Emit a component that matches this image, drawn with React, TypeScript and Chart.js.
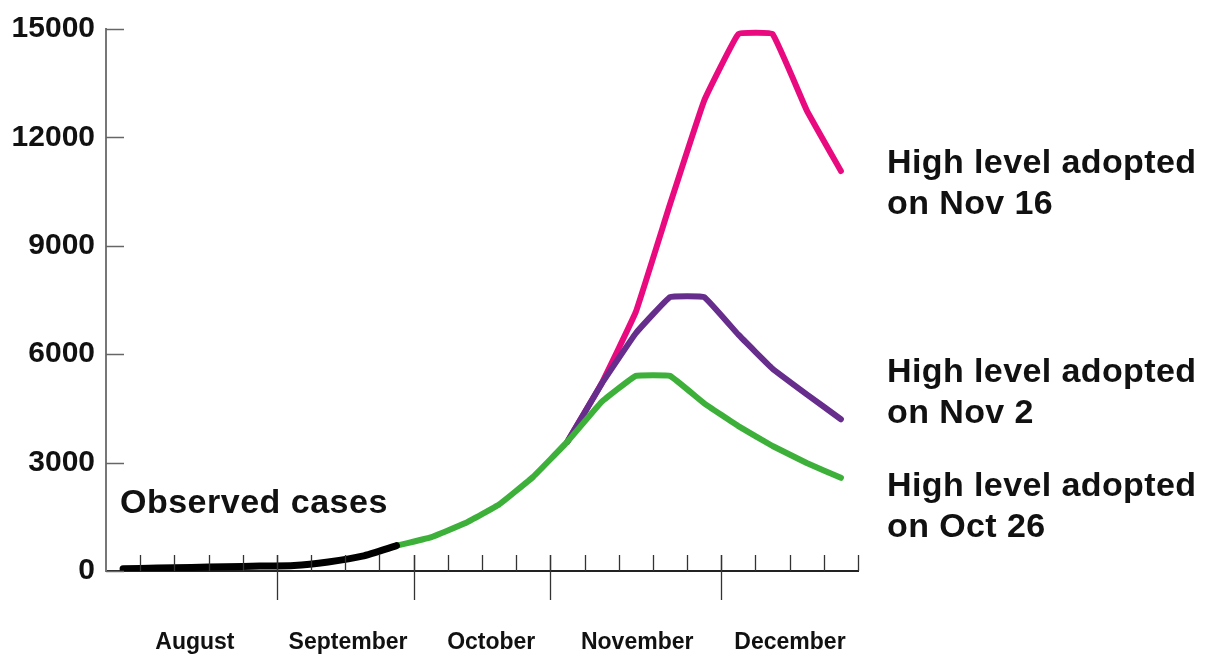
import React, { useEffect, useRef } from "react";
import { Chart, registerables } from "chart.js";

Chart.register(...registerables);

// ---- data ----
const weeks = [
  "Aug W1", "Aug W2", "Aug W3", "Aug W4", "Aug W5",
  "Sep W1", "Sep W2", "Sep W3", "Sep W4",
  "Oct W1", "Oct W2", "Oct W3", "Oct W4",
  "Nov W1", "Nov W2", "Nov W3", "Nov W4", "Nov W5",
  "Dec W1", "Dec W2", "Dec W3", "Dec W4",
];

const observed = [60, 80, 100, 120, 135, 150, 250, 410, 700, null, null, null, null, null, null, null, null, null, null, null, null, null];
const adoptedOct26 = [null, null, null, null, null, null, null, null, 700, 930, 1320, 1840, 2610, 3580, 4680, 5400, 5400, 4640, 4010, 3460, 2990, 2580];
const adoptedNov2 = [null, null, null, null, null, null, null, null, null, null, null, null, null, 3580, 5180, 6580, 7580, 7580, 6540, 5600, 4890, 4200];
const adoptedNov16 = [null, null, null, null, null, null, null, null, null, null, null, null, null, 3580, 5190, 7170, 10150, 13020, 14860, 14860, 12750, 11070];

const yTicks = [0, 3000, 6000, 9000, 12000, 15000];

const months = ["August", "September", "October", "November", "December"];
const monthLabelAt = [2.1, 6.58, 10.77, 15.04, 19.51]; // category units
const monthBoundaries = [4.5, 8.5, 12.5, 17.5]; // category units

const seriesNotes = [
  { lines: ["High level adopted", "on Nov 16"], value: 11264 },
  { lines: ["High level adopted", "on Nov 2"], value: 5495 },
  { lines: ["High level adopted", "on Oct 26"], value: 2335 },
];
const observedNote = { text: "Observed cases", value: 1868 };

const FONT = "'Liberation Sans', Arial, Helvetica, sans-serif";

const decorPlugin = {
  id: "decor",
  afterDraw(chart: any) {
    const ctx = chart.ctx as CanvasRenderingContext2D;
    const xs = chart.scales.x;
    const ys = chart.scales.y;
    const area = chart.chartArea;
    ctx.save();
    const line = (x1: number, y1: number, x2: number, y2: number) => {
      ctx.beginPath();
      ctx.moveTo(x1, y1);
      ctx.lineTo(x2, y2);
      ctx.stroke();
    };
    // inward y ticks
    ctx.strokeStyle = "#666";
    ctx.lineWidth = 1.5;
    ys.ticks.forEach((t: any) => {
      const py = Math.round(ys.getPixelForValue(t.value)) + 0.5;
      line(area.left, py, area.left + 18, py);
    });
    // x minor ticks (weekly)
    ctx.strokeStyle = "#333";
    ctx.lineWidth = 1.3;
    for (let k = 1; k <= weeks.length; k++) {
      const px = Math.round(xs.getPixelForValue(k - 0.5)) + 0.5;
      line(px, area.bottom, px, area.bottom - 16);
    }
    // month boundaries
    monthBoundaries.forEach((b) => {
      const px = Math.round(xs.getPixelForValue(b)) + 0.5;
      line(px, area.bottom - 16, px, area.bottom + 29);
    });
    // month labels
    ctx.fillStyle = "#111";
    ctx.font = `bold 23px ${FONT}`;
    ctx.textAlign = "center";
    ctx.textBaseline = "middle";
    months.forEach((m, i) => {
      ctx.fillText(m, xs.getPixelForValue(monthLabelAt[i]), area.bottom + 72);
    });
    // series notes
    ctx.textAlign = "left";
    ctx.font = `bold 34px ${FONT}`;
    (ctx as any).letterSpacing = "0.4px";
    seriesNotes.forEach((n) => {
      const py = ys.getPixelForValue(n.value);
      n.lines.forEach((l, j) => ctx.fillText(l, area.right + 29, py + j * 41));
    });
    (ctx as any).letterSpacing = "0.5px";
    ctx.fillText(observedNote.text, area.left + 14, ys.getPixelForValue(observedNote.value));
    ctx.restore();
  },
};

export default function App() {
  const ref = useRef<HTMLCanvasElement | null>(null);
  useEffect(() => {
    if (!ref.current) return;
    const common = {
      pointRadius: 0,
      pointHoverRadius: 0,
      borderCapStyle: "round" as const,
      borderJoinStyle: "round" as const,
      tension: 0.08,
      spanGaps: false,
      fill: false,
    };
    const chart = new Chart(ref.current, {
      type: "line",
      data: {
        labels: weeks,
        datasets: [
          { ...common, label: "Observed cases", data: observed, borderColor: "#000000", borderWidth: 7, tension: 0.2 },
          { ...common, label: "High level adopted on Oct 26", data: adoptedOct26, borderColor: "#3DB03A", borderWidth: 6 },
          { ...common, label: "High level adopted on Nov 2", data: adoptedNov2, borderColor: "#662D8C", borderWidth: 6 },
          { ...common, label: "High level adopted on Nov 16", data: adoptedNov16, borderColor: "#EA0A80", borderWidth: 6 },
        ],
      },
      options: {
        animation: false,
        responsive: true,
        maintainAspectRatio: false,
        layout: { padding: { left: 0, right: 348, top: 25, bottom: 0 } },
        plugins: { legend: { display: false }, tooltip: { enabled: false } },
        scales: {
          x: {
            type: "category",
            offset: true,
            grid: { display: false, offset: true, drawTicks: false },
            border: { display: true, color: "#222", width: 2 },
            ticks: { display: false },
            afterFit: (s: any) => {
              s.height = 84;
            },
          },
          y: {
            min: 0,
            max: 15000,
            afterBuildTicks: (s: any) => {
              s.ticks = yTicks.map((v) => ({ value: v }));
            },
            grid: { display: false, drawTicks: false },
            border: { display: true, color: "#777", width: 2 },
            ticks: {
              padding: 11,
              color: "#111",
              font: { family: FONT, size: 30, weight: "bold" },
              callback: (v: any) => String(v),
            },
            afterFit: (s: any) => {
              s.width = 106;
            },
          },
        },
      },
      plugins: [decorPlugin],
    });
    return () => chart.destroy();
  }, []);
  return (
    <div style={{ position: "fixed", left: 0, top: 0, width: 1206, height: 655, background: "#fff" }}>
      <canvas ref={ref} />
    </div>
  );
}
